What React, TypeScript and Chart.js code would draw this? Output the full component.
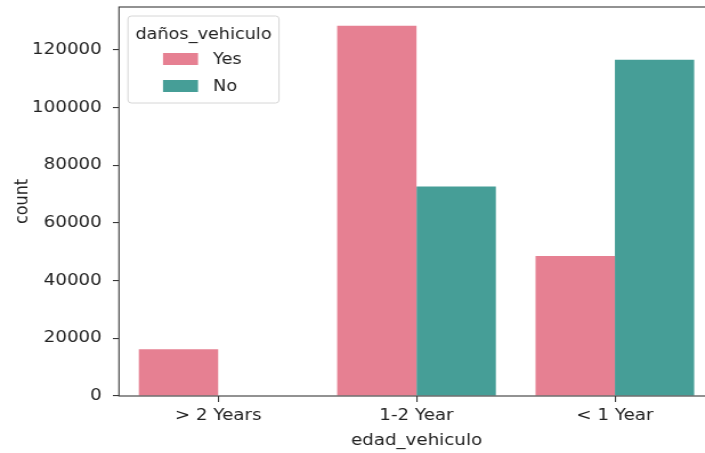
import React, { useEffect, useRef } from "react";
import { Chart, registerables } from "chart.js";
Chart.register(...registerables);

const categories = ["> 2 Years", "1-2 Year", "< 1 Year"];
const yesCounts = [16200, 128300, 48500];
const noCounts = [0, 72600, 116500];
const seriesLabels = ["Yes", "No"];
const seriesColors = ["#e68092", "#469e97"];
const legendTitle = "daños_vehiculo";
const xTitle = "edad_vehiculo";
const yTitle = "count";
const yTicks = [0, 20000, 40000, 60000, 80000, 100000, 120000];
const yMax = 134800;

const CANVAS_W = 640;
const CSS_W = 730;
const H = 453;
const FONT = "'DejaVu Sans', sans-serif";
const TEXT = "#222222";
const SPINE = "#3a3a3a";

const framePlugin = {
  id: "frame",
  afterDatasetsDraw(chart: any) {
    const { ctx, chartArea } = chart;
    const { left, right, top, bottom } = chartArea;
    ctx.save();
    ctx.strokeStyle = SPINE;
    ctx.lineWidth = 1.1;
    ctx.strokeRect(left, top, right - left, bottom - top);
    ctx.restore();
  },
};

const legendPlugin = {
  id: "customLegend",
  afterDraw(chart: any) {
    const { ctx } = chart;
    const bx = 112.2, by = 16, bw = 132.4, bh = 87, r = 3;
    ctx.save();
    ctx.beginPath();
    ctx.moveTo(bx + r, by);
    ctx.lineTo(bx + bw - r, by);
    ctx.quadraticCurveTo(bx + bw, by, bx + bw, by + r);
    ctx.lineTo(bx + bw, by + bh - r);
    ctx.quadraticCurveTo(bx + bw, by + bh, bx + bw - r, by + bh);
    ctx.lineTo(bx + r, by + bh);
    ctx.quadraticCurveTo(bx, by + bh, bx, by + bh - r);
    ctx.lineTo(bx, by + r);
    ctx.quadraticCurveTo(bx, by, bx + r, by);
    ctx.closePath();
    ctx.fillStyle = "rgba(255,255,255,0.85)";
    ctx.fill();
    ctx.strokeStyle = "#d6d6d6";
    ctx.lineWidth = 1;
    ctx.stroke();

    ctx.font = `15.5px ${FONT}`;
    ctx.fillStyle = TEXT;
    ctx.textBaseline = "middle";
    ctx.textAlign = "center";
    ctx.fillText(legendTitle, bx + bw / 2, 35);

    ctx.textAlign = "left";
    const rows = [59, 86];
    chart.data.datasets.forEach((ds: any, i: number) => {
      const cy = rows[i];
      ctx.fillStyle = ds.backgroundColor;
      ctx.fillRect(142.9, cy - 6, 30.7, 12);
      ctx.fillStyle = TEXT;
      ctx.fillText(ds.label, 186.8, cy + 0.5);
    });
    ctx.restore();
  },
};

export default function App() {
  const ref = useRef<HTMLCanvasElement | null>(null);
  useEffect(() => {
    if (!ref.current) return;
    const font = { family: FONT, size: 16, lineHeight: 1.2 };
    const chart = new Chart(ref.current, {
      type: "bar",
      data: {
        labels: categories,
        datasets: [
          {
            label: seriesLabels[0],
            data: yesCounts,
            backgroundColor: seriesColors[0],
            borderWidth: 0,
            categoryPercentage: 0.8,
            barPercentage: 1.0,
          },
          {
            label: seriesLabels[1],
            data: noCounts,
            backgroundColor: seriesColors[1],
            borderWidth: 0,
            categoryPercentage: 0.8,
            barPercentage: 1.0,
          },
        ],
      },
      options: {
        responsive: false,
        animation: false,
        devicePixelRatio: 1,
        layout: { padding: { left: 0, right: CANVAS_W - 626, top: 7, bottom: 0 } },
        plugins: { legend: { display: false }, tooltip: { enabled: false } },
        scales: {
          x: {
            type: "category",
            offset: true,
            grid: {
              offset: false,
              drawOnChartArea: false,
              drawTicks: true,
              tickLength: 6,
              tickColor: SPINE,
              lineWidth: 1.1,
            },
            border: { display: false },
            ticks: { padding: 4, color: TEXT, font, maxRotation: 0, autoSkip: false },
            title: {
              display: true,
              text: xTitle,
              color: TEXT,
              font,
              padding: { top: 0, bottom: 2.5 },
            },
            afterFit: (s: any) => {
              s.height = 57;
              s.paddingLeft = 0;
              s.paddingRight = 0;
            },
          },
          y: {
            type: "linear",
            min: 0,
            max: yMax,
            afterBuildTicks: (s: any) => {
              s.ticks = yTicks.map((v) => ({ value: v }));
            },
            grid: {
              drawOnChartArea: false,
              drawTicks: true,
              tickLength: 5.3,
              tickColor: SPINE,
              lineWidth: 1.1,
            },
            border: { display: false },
            ticks: { padding: 9.8, color: TEXT, font, callback: (v: any) => String(v) },
            title: {
              display: true,
              text: yTitle,
              color: TEXT,
              font,
              padding: { top: 10, bottom: 0 },
            },
            afterFit: (s: any) => {
              s.width = 104.3;
              s.paddingTop = 0;
              s.paddingBottom = 0;
            },
          },
        },
      } as any,
      plugins: [framePlugin, legendPlugin],
    });
    return () => chart.destroy();
  }, []);
  return (
    <div
      style={{
        position: "fixed",
        left: 0,
        top: 0,
        width: 705,
        height: H,
        overflow: "hidden",
        background: "#fff",
      }}
    >
      <canvas
        ref={ref}
        width={CANVAS_W}
        height={H}
        style={{ width: `${CSS_W}px`, height: `${H}px`, display: "block" }}
      />
    </div>
  );
}
